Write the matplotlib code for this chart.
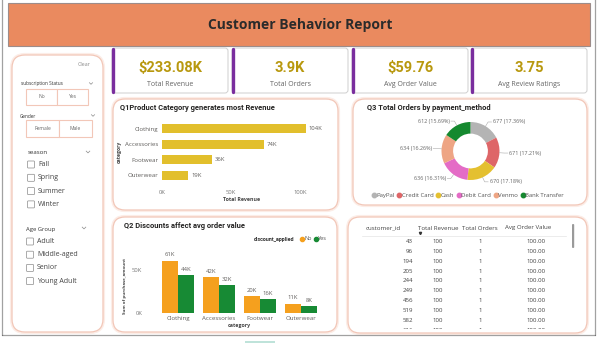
import matplotlib
matplotlib.use('Agg')
import matplotlib.pyplot as plt
from matplotlib.patches import FancyBboxPatch, Rectangle
from matplotlib.lines import Line2D
import numpy as np

plt.rcParams['font.family'] = ['Open Sans', 'DejaVu Sans']

# ---------------- data ----------------
report_title = 'Customer Behavior Report'
kpi_values = ['$233.08K', '3.9K', '$59.76', '3.75']
kpi_labels = ['Total Revenue', 'Total Orders', 'Avg Order Value', 'Avg Review Ratings']

q1_title = 'Q1Product Category generates most Revenue'
q1_categories = ['Clothing', 'Accessories', 'Footwear', 'Outerwear']
q1_revenue = [104000, 74000, 36000, 19000]
q1_ticks = [0, 50000, 100000]
q1_tick_labels = ['0K', '50K', '100K']

q2_title = 'Q2 Discounts affect avg order value'
q2_categories = ['Clothing', 'Accessories', 'Footwear', 'Outerwear']
q2_series = ['No', 'Yes']
q2_no = [61000, 42000, 20000, 11000]
q2_yes = [44000, 32000, 16000, 8000]
q2_ticks = [0, 50000]
q2_tick_labels = ['0K', '50K']

q3_title = 'Q3 Total Orders by payment_method'
pay_methods = ['PayPal', 'Credit Card', 'Cash', 'Debit Card', 'Venmo', 'Bank Transfer']
pay_orders = [677, 671, 670, 636, 634, 612]

table_columns = ['customer_id', 'Total Revenue', 'Total Orders', 'Avg Order Value']
table_customer_id = [43, 96, 194, 205, 244, 249, 456, 519, 582, 616]
table_revenue = [100, 100, 100, 100, 100, 100, 100, 100, 100, 100]
table_orders = [1, 1, 1, 1, 1, 1, 1, 1, 1, 1]
table_avg = [100.0, 100.0, 100.0, 100.0, 100.0, 100.0, 100.0, 100.0, 100.0, 100.0]

slicer_subscription = ['No', 'Yes']
slicer_gender = ['Female', 'Male']
slicer_season = ['Fall', 'Spring', 'Summer', 'Winter']
slicer_age = ['Adult', 'Middle-aged', 'Senior', 'Young Adult']

# ---------------- style ----------------
BANNER = '#EA8A5F'
PANEL_EDGE = '#F2C7B8'
PANEL_GLOW = '#FCEDE7'
GOLD = '#B8980E'
PURPLE = '#7A2E9E'
Q1_BAR = '#E2BF2C'
NO_C = '#F5A01E'
YES_C = '#178A34'
PIE_COLORS = ['#B4B4B4', '#DE6668', '#E4C030', '#E46CC6', '#EEA584', '#15892F']
TXT = '#252423'
GREY = '#605E5C'
LIGHT = '#777777'

W, H = 600, 343
fig = plt.figure(figsize=(6, 3.43), dpi=100)
fig.patch.set_facecolor('white')
bg = fig.add_axes([0, 0, 1, 1])
bg.set_xlim(0, W)
bg.set_ylim(H, 0)
bg.axis('off')


def px_axes(x0, y0, x1, y1):
    a = fig.add_axes([x0 / W, 1 - y1 / H, (x1 - x0) / W, (y1 - y0) / H])
    a.patch.set_alpha(0)
    return a


def panel(x0, y0, x1, y1, r=12):
    bg.add_patch(FancyBboxPatch((x0, y0), x1 - x0, y1 - y0,
                                boxstyle=f'round,pad=0,rounding_size={r}',
                                fc='none', ec=PANEL_GLOW, lw=3.0))
    bg.add_patch(FancyBboxPatch((x0, y0), x1 - x0, y1 - y0,
                                boxstyle=f'round,pad=0,rounding_size={r}',
                                fc='white', ec=PANEL_EDGE, lw=0.9))


def chevron(x, y, s=2.2):
    bg.plot([x - s, x, x + s], [y - s * 0.5, y + s * 0.5, y - s * 0.5],
            color='#8a8a8a', lw=0.5)


# dotted outer frame
dot = dict(color='#444444', lw=0.9, ls=(0, (0.8, 0.8)))
bg.plot([1.5, 1.5], [0, 335], **dot)
bg.plot([595, 595], [0, 335], **dot)
bg.plot([1.5, 595], [335, 335], **dot)
bg.add_patch(Rectangle((245, 340.5), 30, 3, fc='#BFE3DA', ec='none'))

# banner
bg.add_patch(Rectangle((8, 3), 582, 43, fc=BANNER, ec='#9C8C8A', lw=0.8))
bg.text(300, 25, report_title, ha='center', va='center', fontsize=10,
        fontweight='bold', color='#2B2B2B')

# KPI cards
card_x = [(112, 228), (232, 348), (352, 468), (471, 587)]
for (x0, x1), v, lab in zip(card_x, kpi_values, kpi_labels):
    bg.add_patch(FancyBboxPatch((x0, 48), x1 - x0, 45,
                                boxstyle='round,pad=0,rounding_size=3',
                                fc='white', ec='#CFCFCF', lw=0.7))
    bg.plot([x0 + 0.9, x0 + 0.9], [49.2, 91.8], color=PURPLE, lw=2.4,
            solid_capstyle='round')
    cx = (x0 + x1) / 2
    bg.text(cx, 68, v, ha='center', va='center', fontsize=10.5, color=GOLD,
            fontweight='bold', family=['Roboto', 'DejaVu Sans'])
    bg.text(cx, 84, lab, ha='center', va='center', fontsize=5, color='#666666')

# panels
panel(12, 55, 103, 332, r=13)
panel(113, 99, 338, 210)
panel(353, 99, 587, 205)
panel(113, 217, 337, 332)
panel(348, 217, 587, 333)

# ---------------- slicer panel ----------------
bg.text(91, 64, 'Clear', ha='right', va='center', fontsize=3.8, color='#888888')
bg.text(21, 84, 'subscription Status', ha='left', va='center', fontsize=3.4, color='#333333')
chevron(91, 83.5, 1.6)
for i, lab in enumerate(slicer_subscription):
    x0 = 26 + i * 31
    bg.add_patch(Rectangle((x0, 89), 31, 16, fc='white', ec=PANEL_EDGE, lw=0.8))
    bg.text(x0 + 15.5, 97, lab, ha='center', va='center', fontsize=3.6, color='#666666')
bg.text(20, 116, 'Gender', ha='left', va='center', fontsize=3.4, color='#333333')
chevron(93, 115.5, 1.6)
for i, lab in enumerate(slicer_gender):
    x0 = 26 + i * 33
    bg.add_patch(Rectangle((x0, 120), 33, 17, fc='white', ec=PANEL_EDGE, lw=0.8))
    bg.text(x0 + 16.5, 128.5, lab, ha='center', va='center', fontsize=3.6, color='#666666')

bg.text(28, 153, 'season', ha='left', va='center', fontsize=4.4, color='#333333')
chevron(88, 152, 1.8)
for i, lab in enumerate(slicer_season):
    y = 164.5 + i * 13.3
    bg.add_patch(FancyBboxPatch((27.5, y - 3.5), 7, 7, boxstyle='round,pad=0,rounding_size=0.8',
                                fc='white', ec='#8a8a8a', lw=0.5))
    bg.text(38, y, lab, ha='left', va='center', fontsize=5, color='#444444')

bg.text(26, 229, 'Age Group', ha='left', va='center', fontsize=4.2, color='#333333')
chevron(84, 228, 1.8)
for i, lab in enumerate(slicer_age):
    y = 241.5 + i * 13.2
    bg.add_patch(FancyBboxPatch((26.5, y - 3.5), 7, 7, boxstyle='round,pad=0,rounding_size=0.8',
                                fc='white', ec='#8a8a8a', lw=0.5))
    bg.text(37, y, lab, ha='left', va='center', fontsize=5, color='#444444')

# ---------------- Q1 horizontal bars ----------------
bg.text(120, 108, q1_title, ha='left', va='center', fontsize=5.4, fontweight='bold',
        color=TXT, family=['Roboto', 'DejaVu Sans'])
ax1 = px_axes(162, 120.7, 320.7, 183.3)
ypos = np.arange(len(q1_categories))
ax1.barh(ypos, q1_revenue, height=0.58, color=Q1_BAR)
ax1.set_ylim(len(q1_categories) - 0.5, -0.5)
ax1.set_xlim(0, 115000)
for s in ax1.spines.values():
    s.set_visible(False)
ax1.set_yticks(ypos)
ax1.set_yticklabels(q1_categories, fontsize=4.4, color=GREY)
ax1.set_xticks(q1_ticks)
ax1.set_xticklabels(q1_tick_labels, fontsize=4.2, color=LIGHT)
ax1.tick_params(length=0, pad=2.5)
ax1.tick_params(axis='x', pad=4.5)
for y, v in zip(ypos, q1_revenue):
    ax1.text(v + 2000, y, f'{v / 1000:.0f}K', va='center', ha='left', fontsize=4.2, color=GREY)
ax1.set_xlabel('Total Revenue', fontsize=3.8, color='#444444', fontweight='bold', labelpad=2)
ax1.set_ylabel('category', fontsize=3.6, color='#444444', fontweight='bold')
ax1.yaxis.set_label_coords((122 - 162) / 158.7, 0.5)

# ---------------- Q2 grouped bars ----------------
bg.text(124, 226, q2_title, ha='left', va='center', fontsize=5.4, fontweight='bold',
        color=TXT, family=['Roboto', 'DejaVu Sans'])
ax2 = px_axes(153.4, 252.8, 325.6, 313)
xpos = np.arange(len(q2_categories))
bw = 0.39
b_no = ax2.bar(xpos - bw / 2, q2_no, width=bw, color=NO_C)
b_yes = ax2.bar(xpos + bw / 2, q2_yes, width=bw, color=YES_C)
ax2.set_xlim(-0.6, len(q2_categories) - 0.4)
ax2.set_ylim(0, 70000)
for s in ax2.spines.values():
    s.set_visible(False)
ax2.set_yticks(q2_ticks)
ax2.set_yticklabels(q2_tick_labels, fontsize=4.2, color=LIGHT)
ax2.set_xticks(xpos)
ax2.set_xticklabels(q2_categories, fontsize=4.4, color=GREY)
ax2.tick_params(length=0)
ax2.tick_params(axis='y', pad=8)
ax2.tick_params(axis='x', pad=2)
for bars, vals in ((b_no, q2_no), (b_yes, q2_yes)):
    for b, v in zip(bars, vals):
        ax2.annotate(f'{v / 1000:.0f}K', (b.get_x() + b.get_width() / 2, v),
                     xytext=(0, 2.2), textcoords='offset points', ha='center', va='bottom',
                     fontsize=4.2, color=GREY)
ax2.set_xlabel('category', fontsize=3.8, color='#444444', fontweight='bold', labelpad=1.5)
ax2.set_ylabel('Sum of purchase_amount', fontsize=3.2, color='#444444', fontweight='bold')
ax2.yaxis.set_label_coords((127 - 153.4) / 172.2, 0.45)
bg.text(254, 239, 'discount_applied', ha='left', va='center', fontsize=3.9,
        fontweight='bold', color='#333333', family=['Roboto', 'DejaVu Sans'])
q2_handles = [Line2D([], [], ls='', marker='o', ms=3, color=c) for c in (NO_C, YES_C)]
ax2.legend(q2_handles, q2_series, ncol=2, loc='center left',
           bbox_to_anchor=(300 / W, 1 - 239 / H), bbox_transform=fig.transFigure,
           fontsize=4.1, frameon=False, handlelength=0.6, handletextpad=0.15,
           columnspacing=0.4, borderpad=0, borderaxespad=0, labelcolor='#555555')

# ---------------- Q3 donut ----------------
bg.text(367, 108, q3_title, ha='left', va='center', fontsize=5.4, fontweight='bold',
        color=TXT, family=['Roboto', 'DejaVu Sans'])
ax3 = px_axes(441.5, 122, 499.5, 180)
wedges, _ = ax3.pie(pay_orders, colors=PIE_COLORS, startangle=90, counterclock=False,
                    radius=1.0, wedgeprops=dict(width=0.4, linewidth=0))
ax3.set_xlim(-1, 1)
ax3.set_ylim(-1, 1)
total = sum(pay_orders)
for w, v in zip(wedges, pay_orders):
    mid = np.deg2rad((w.theta1 + w.theta2) / 2)
    dx, dy = np.cos(mid), np.sin(mid)
    p0 = (1.0 * dx, 1.0 * dy)
    p1 = (1.17 * dx, 1.17 * dy)
    side = 1 if dx >= 0 else -1
    p2 = (p1[0] + side * 0.12, p1[1])
    ax3.plot([p0[0], p1[0], p2[0]], [p0[1], p1[1], p2[1]], color='#AAAAAA', lw=0.4,
             clip_on=False)
    ax3.text(p2[0] + side * 0.05, p2[1], f'{v} ({v / total * 100:.2f}%)',
             ha='left' if side > 0 else 'right', va='center', fontsize=3.9,
             color='#666666', clip_on=False)
pie_handles = [Line2D([], [], ls='', marker='o', ms=3.2, color=c) for c in PIE_COLORS]
ax3.legend(pie_handles, pay_methods, ncol=6, loc='center',
           bbox_to_anchor=(468 / W, 1 - 195.5 / H), bbox_transform=fig.transFigure,
           fontsize=4.3, frameon=False, handlelength=0.6, handletextpad=0.15,
           columnspacing=0.45, borderpad=0, borderaxespad=0, labelcolor='#555555')

# ---------------- table ----------------
hdr_x = [366, 418, 462, 505]
for x, c in zip(hdr_x, table_columns):
    bg.text(x, 228, c, ha='left', va='center', fontsize=4.4, color='#444444')
bg.plot([420], [232.5], marker='v', ms=1.6, color='#333333')
bg.plot([362, 566], [236, 236], color='#E4E4E4', lw=0.5)
bg.add_patch(FancyBboxPatch((572, 224), 2.2, 24, boxstyle='round,pad=0,rounding_size=1',
                            fc='#9a9a9a', ec='none'))
axt = px_axes(348, 236.5, 587, 328.5)
axt.set_xlim(348, 587)
axt.set_ylim(328.5, 236.5)
axt.axis('off')
for i, (cid, rev, ords, avg) in enumerate(zip(table_customer_id, table_revenue,
                                              table_orders, table_avg)):
    y = 241.5 + i * 9.85
    kw = dict(va='center', fontsize=4.4, color='#444444', clip_on=True)
    axt.text(413, y, f'{cid}', ha='right', **kw)
    axt.text(437.5, y, f'{rev}', ha='center', **kw)
    axt.text(480, y, f'{ords}', ha='center', **kw)
    axt.text(546, y, f'{avg:.2f}', ha='right', **kw)

fig.savefig('out.png', dpi=100)
